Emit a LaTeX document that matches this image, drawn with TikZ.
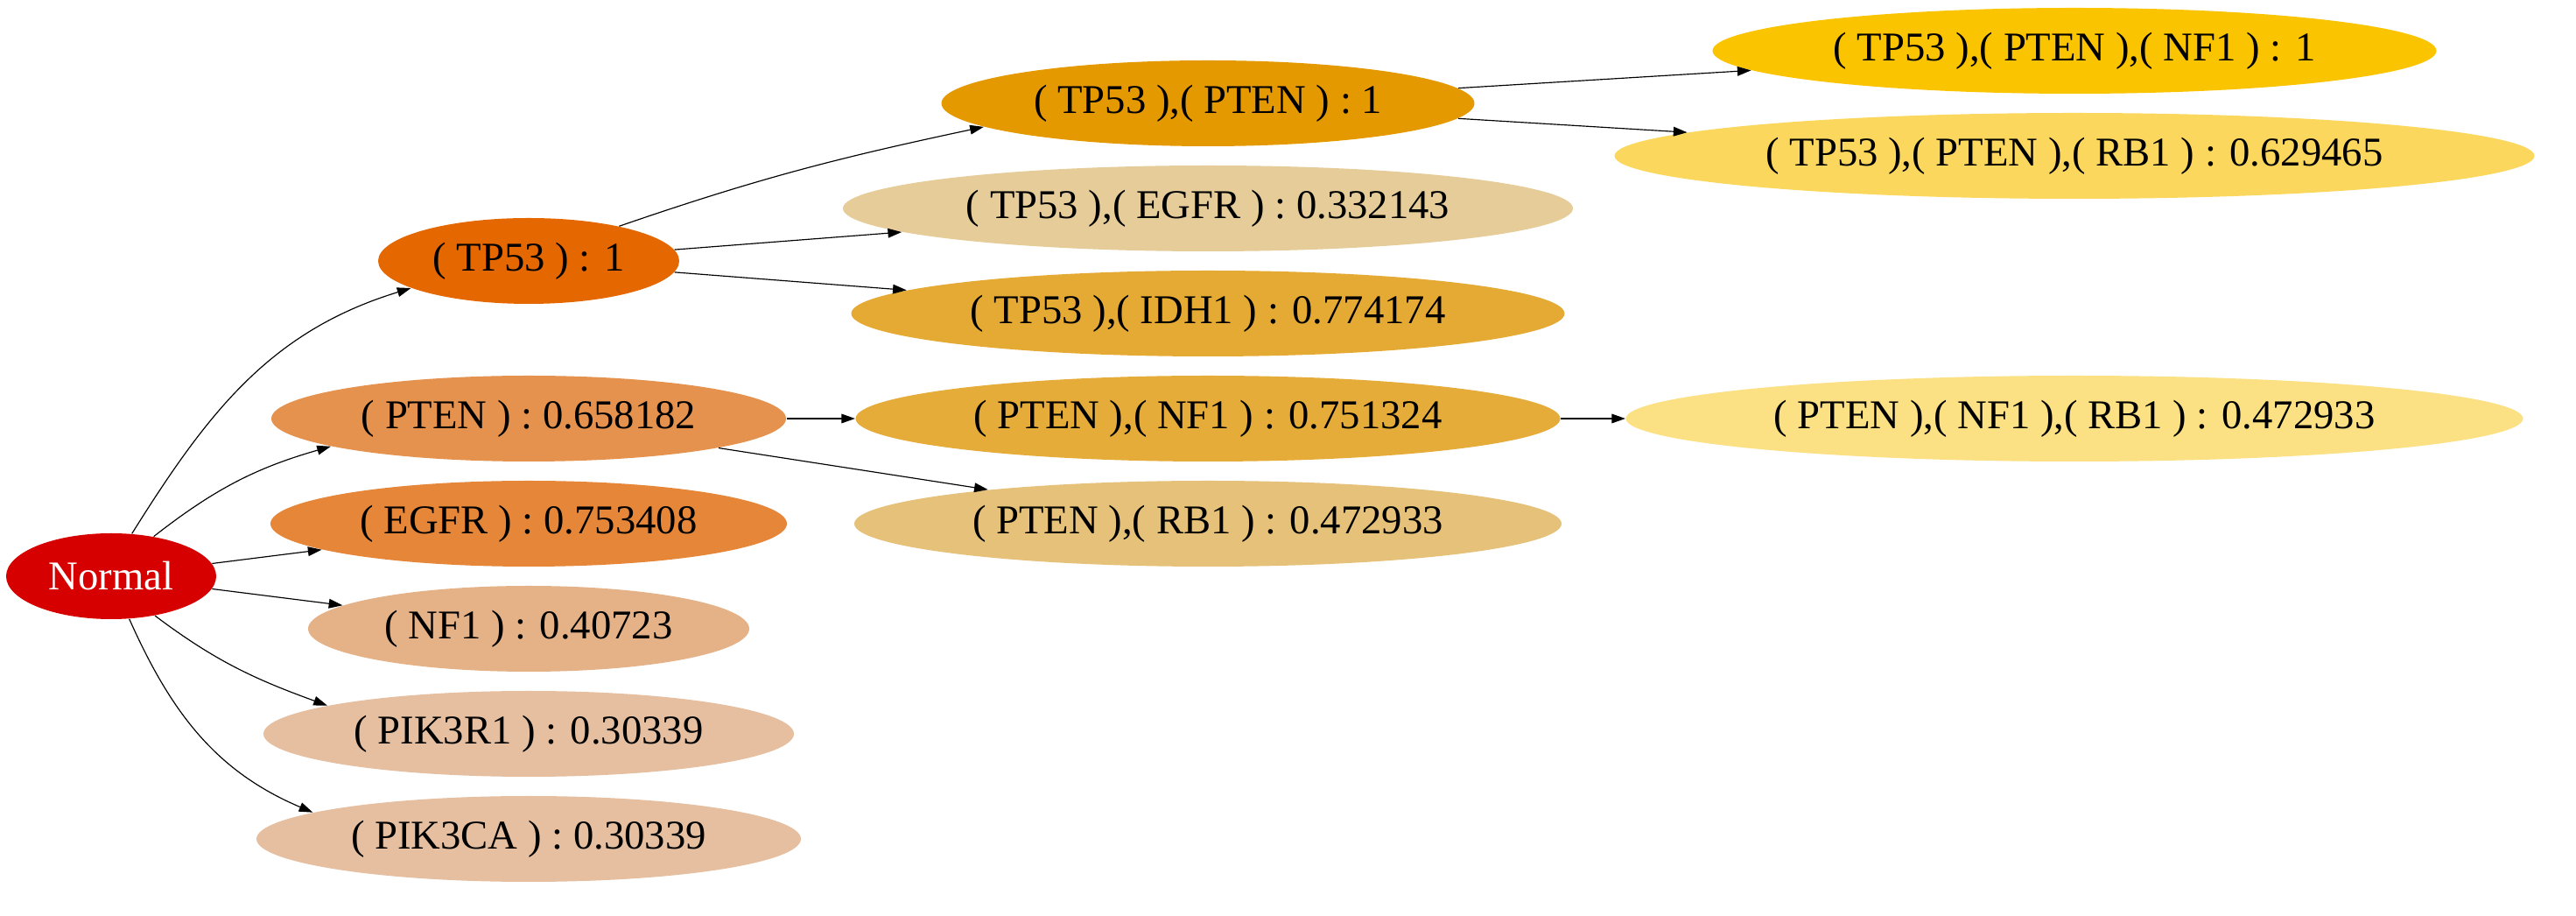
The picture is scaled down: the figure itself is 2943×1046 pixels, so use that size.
\documentclass[tikz,border=0pt]{standalone}
\usepackage{fontspec}
\setmainfont{Liberation Serif}
\usetikzlibrary{shapes.geometric,arrows.meta}

% fill colours, hue by level, saturation by score
\definecolor{normalred}{HTML}{D70000}
\definecolor{tpone}{HTML}{E56700}
\definecolor{ptenone}{HTML}{E5924E}
\definecolor{egfrone}{HTML}{E58639}
\definecolor{nfone}{HTML}{E5B288}
\definecolor{pikone}{HTML}{E5BFA0}
\definecolor{tpptentwo}{HTML}{E59900}
\definecolor{tpegfrtwo}{HTML}{E5CC99}
\definecolor{tpidhtwo}{HTML}{E5AA34}
\definecolor{ptennftwo}{HTML}{E5AC39}
\definecolor{ptenrbtwo}{HTML}{E5C179}
\definecolor{tpptennfthree}{HTML}{FBC400}
\definecolor{tpptenrbthree}{HTML}{FBD85D}
\definecolor{ptennfrbthree}{HTML}{FBE184}

\tikzset{gene/.style={ellipse,inner sep=0pt,minimum height=29.4pt,font=\fontsize{14}{16}\selectfont}}

\begin{document}
\begin{tikzpicture}[x=0.3pt,y=0.3pt,line width=0.35pt,>={Triangle[length=4.7pt,width=3.2pt]}]
	\useasboundingbox (0,0) rectangle (2943,1046);
	% root
		\node[gene,fill=normalred,text=white,minimum width=72pt] (normal) at (127,388) {Normal};
	% level 1
		\node[gene,fill=tpone,minimum width=103.2pt] (tp) at (604,748) {( TP53 ) : 1};
		\node[gene,fill=ptenone,minimum width=176.4pt] (pten) at (604,568) {( PTEN ) : 0.658182};
		\node[gene,fill=egfrone,minimum width=177pt] (egfr) at (604,448) {( EGFR ) : 0.753408};
		\node[gene,fill=nfone,minimum width=151.2pt] (nf) at (604,328) {( NF1 ) : 0.40723};
		\node[gene,fill=pikone,minimum width=181.8pt] (pikr) at (604,208) {( PIK3R1 ) : 0.30339};
		\node[gene,fill=pikone,minimum width=186.6pt] (pikca) at (604,88) {( PIK3CA ) : 0.30339};
	% level 2
		\node[gene,fill=tpptentwo,minimum width=182.7pt] (tppten) at (1380,928) {( TP53 ),( PTEN ) : 1};
		\node[gene,fill=tpegfrtwo,minimum width=250.2pt] (tpegfr) at (1380,808) {( TP53 ),( EGFR ) : 0.332143};
		\node[gene,fill=tpidhtwo,minimum width=244.5pt] (tpidh) at (1380,688) {( TP53 ),( IDH1 ) : 0.774174};
		\node[gene,fill=ptennftwo,minimum width=241.5pt] (ptennf) at (1380,568) {( PTEN ),( NF1 ) : 0.751324};
		\node[gene,fill=ptenrbtwo,minimum width=242.4pt] (ptenrb) at (1380,448) {( PTEN ),( RB1 ) : 0.472933};
	% level 3
		\node[gene,fill=tpptennfthree,minimum width=248.1pt] (tpptennf) at (2370,988) {( TP53 ),( PTEN ),( NF1 ) : 1};
		\node[gene,fill=tpptenrbthree,minimum width=315.3pt] (tpptenrb) at (2370,868) {( TP53 ),( PTEN ),( RB1 ) : 0.629465};
		\node[gene,fill=ptennfrbthree,minimum width=307.5pt] (ptennfrb) at (2370,568) {( PTEN ),( NF1 ),( RB1 ) : 0.472933};
	% edges from root
		\draw[->] (normal.64) to[out=58,in=197] (tp.193);
		\draw[->] (normal.43) to[out=38,in=196] (pten.188);
		\draw[->] (normal) -- (egfr);
		\draw[->] (normal) -- (nf);
		\draw[->] (normal.-42) to[out=-37,in=160] (pikr.172);
		\draw[->] (normal.-67) to[out=-66,in=157] (pikca.173);
	% edges level 1 to 2
		\draw[->] (tp.21) to[out=19,in=192] (tppten.186);
		\draw[->] (tp) -- (tpegfr);
		\draw[->] (tp) -- (tpidh);
		\draw[->] (pten) -- (ptennf);
		\draw[->] (pten) -- (ptenrb);
	% edges level 2 to 3
		\draw[->] (tppten) -- (tpptennf);
		\draw[->] (tppten) -- (tpptenrb);
		\draw[->] (ptennf) -- (ptennfrb);
\end{tikzpicture}
\end{document}
